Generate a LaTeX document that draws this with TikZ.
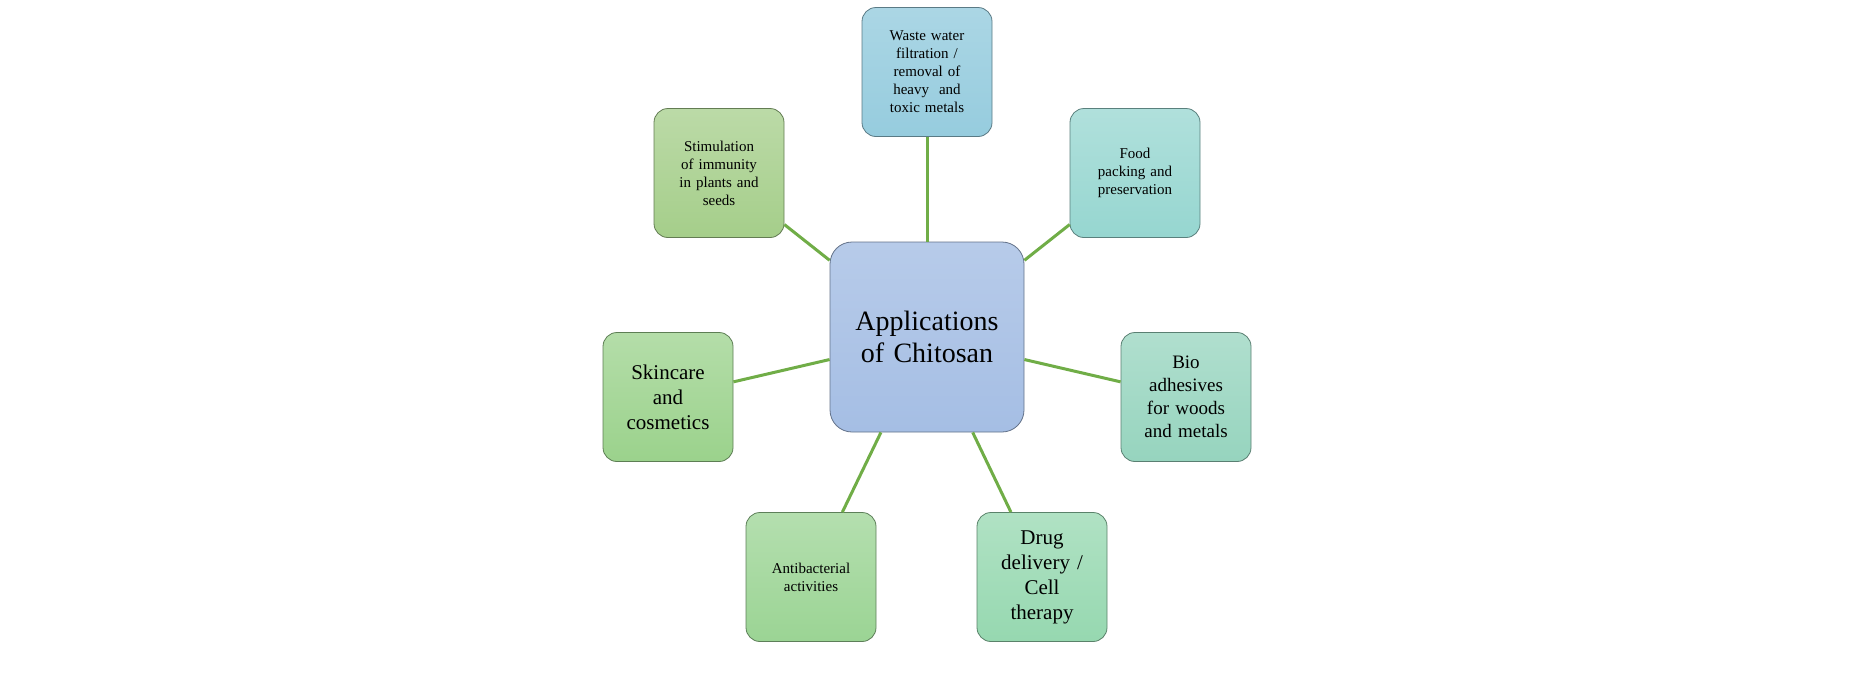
\documentclass[tikz,border=0pt]{standalone}
\usepackage{fontspec}
\setmainfont{Liberation Serif}
\begin{document}
\begin{tikzpicture}[x=1pt,y=-1pt,
 box/.style={rounded corners=14pt,draw=#1!60!black,line width=0.8pt,minimum width=130pt,minimum height=129pt,text width=112pt,align=center,inner sep=0pt,font=\fontsize{15}{18}\selectfont},
 link/.style={draw={rgb,255:red,112;green,173;blue,71},line width=3pt}]
\useasboundingbox (0,0) rectangle (1874,686);
\definecolor{cw}{RGB}{150,204,222}
\definecolor{cf}{RGB}{150,214,208}
\definecolor{cb}{RGB}{150,212,190}
\definecolor{cd}{RGB}{150,216,176}
\definecolor{ca}{RGB}{155,212,148}
\definecolor{cs}{RGB}{155,210,140}
\definecolor{ct}{RGB}{165,206,138}
\definecolor{cc}{RGB}{165,190,228}
\node[box=cc,minimum width=194pt,minimum height=190pt,text width=170pt,rounded corners=22pt,top color=cc!80!white,bottom color=cc,font=\fontsize{28}{32}\selectfont] (c) at (927,337) {Applications\\of Chitosan};
\node[box=cw,top color=cw!80!white,bottom color=cw] (w) at (927,72) {Waste water\\filtration /\\removal of\\heavy~ and\\toxic metals};
\node[box=cf,top color=cf!75!white,bottom color=cf] (f) at (1135,173) {Food\\packing and\\preservation};
\node[box=ct,top color=ct!75!white,bottom color=ct] (t) at (719,173) {Stimulation\\of immunity\\in plants and\\seeds};
\node[box=cs,top color=cs!75!white,bottom color=cs,font=\fontsize{21}{25}\selectfont] (s) at (668,397) {Skincare\\and\\cosmetics};
\node[box=cb,top color=cb!75!white,bottom color=cb,font=\fontsize{19}{23}\selectfont] (b) at (1186,397) {Bio\\adhesives\\for woods\\and metals};
\node[box=ca,top color=ca!75!white,bottom color=ca] (a) at (811,577) {Antibacterial\\activities};
\node[box=cd,top color=cd!75!white,bottom color=cd,font=\fontsize{21}{25}\selectfont] (d) at (1042,577) {Drug\\delivery /\\Cell\\therapy};
\foreach \n in {w,f,t,s,b,a,d} \draw[link] (c) -- (\n);
\end{tikzpicture}
\end{document}
